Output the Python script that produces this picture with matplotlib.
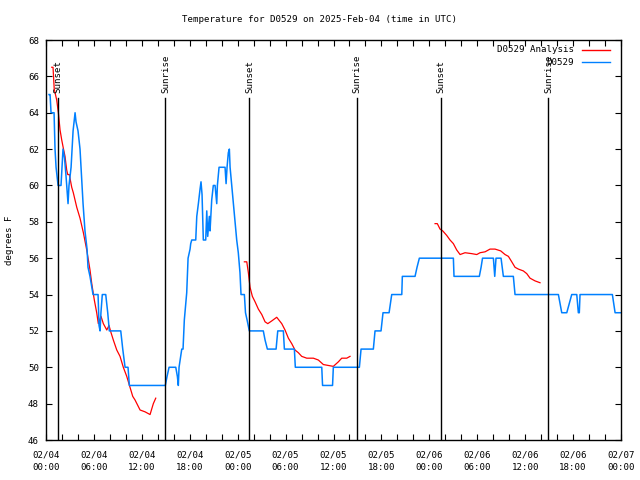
import matplotlib
matplotlib.use("Agg")
import matplotlib.pyplot as plt
from matplotlib.ticker import MultipleLocator

# hours since 2025-02-04 00:00 UTC
obs_hours = [0.38, 0.51, 0.63, 1.01, 1.13, 1.26, 1.51, 1.88, 2.01, 2.13, 2.32, 2.51, 2.76, 2.88,
             3.14, 3.39, 3.64, 3.76, 4.01, 4.26, 4.51, 4.64, 4.88, 5.14, 5.26, 5.51, 5.89, 6.52,
             6.64, 6.77, 6.88, 7.05, 7.48, 7.73, 7.93, 9.36, 9.61, 9.9, 10.27, 10.44, 14.94,
             15.16, 15.41, 16.25, 16.45, 16.57, 16.66, 17.0, 17.16, 17.32, 17.62, 17.79, 18.04,
             18.12, 18.25, 18.75, 18.88, 19.08, 19.29, 19.41, 19.54, 19.7, 20.0, 20.13, 20.25,
             20.45, 20.54, 20.75, 20.95, 21.17, 21.38, 21.46, 21.67, 22.42, 22.55, 22.67, 22.83,
             22.96, 23.05, 23.26, 23.46, 23.67, 23.88, 24.08, 24.29, 24.42, 24.84, 24.98, 25.18,
             25.46, 27.21, 27.43, 27.72, 28.81, 29.02, 29.72, 29.85, 31.1, 31.22, 34.53, 34.63,
             35.88, 35.98, 39.24, 39.45, 40.99, 41.2, 41.95, 42.2, 42.96, 43.29, 44.55, 44.62,
             46.21, 46.46, 46.75, 51.01, 51.09, 54.26, 54.48, 54.66, 56.02, 56.19, 56.35, 56.98,
             57.27, 58.52, 58.73, 64.16, 64.58, 65.21, 65.83, 66.46, 66.66, 66.78, 66.87, 70.92,
             71.26, 72.0]
obs_temp = [65, 65, 64, 64, 62, 61, 60, 60, 61, 62, 61.5, 60.5, 59, 60,
            61, 63, 64, 63.5, 63, 62, 60, 59, 57.5, 56.5, 55.5, 55, 54, 54,
            52.3, 52, 53, 54, 54, 53, 52, 52, 51, 50, 50, 49, 49,
            49.5, 50, 50, 49.5, 49, 50, 51, 51, 52.6, 54.1, 56, 56.5,
            56.8, 57, 57, 58.3, 59, 59.8, 60.2, 59.5, 57, 57, 58.6, 57.2,
            58.3, 57.5, 59.2, 60, 60, 59, 60, 61, 61, 60.1, 61, 61.8,
            62, 61, 60, 59, 58, 57, 56.3, 55.2, 54, 54, 53, 52.6,
            52, 52, 51.5, 51, 51, 52, 52, 51, 51, 50, 50, 49,
            49, 50, 50, 51, 51, 52, 52, 53, 53, 54, 54, 55,
            55, 55.5, 56, 56, 55, 55, 55.5, 56, 56, 55, 56, 56,
            55, 55, 54, 54, 53, 53, 54, 54, 53, 53, 54, 54,
            53, 53]

ana1_hours = [0.72, 0.88, 1.03, 1.34, 1.55, 1.76, 1.97, 2.17, 2.38, 2.59, 2.72, 2.92, 3.22, 3.42,
              3.85, 4.26, 4.68, 5.1, 5.51, 5.73, 6.05, 6.35, 6.55, 6.89, 7.18, 7.61, 7.89, 8.11,
              8.43, 8.86, 9.27, 9.68, 10.11, 10.52, 10.86, 11.15, 11.78, 12.4, 13.03, 13.44, 13.74]
ana1_temp = [66.5, 66.5, 65.3, 64.7, 64.0, 63.05, 62.5, 62.05, 61.6, 60.85, 60.6, 60.6, 59.9, 59.6,
             58.8, 58.2, 57.4, 56.45, 55.35, 54.6, 53.7, 53.0, 52.4, 52.8, 52.4, 52.05, 52.3, 51.95,
             51.5, 50.95, 50.6, 50.0, 49.5, 48.9, 48.4, 48.2, 47.65, 47.55, 47.4, 48.0, 48.3]

ana2_hours = [24.84, 25.14, 25.34, 25.55, 25.84, 26.18, 26.59, 27.02, 27.43, 27.77, 28.27, 28.89,
              29.52, 29.93, 30.35, 30.77, 31.18, 31.6, 32.02, 32.65, 33.48, 34.1, 34.73, 35.35,
              35.98, 36.61, 37.03, 37.66, 38.07]
ana2_temp = [55.8, 55.8, 55.2, 54.4, 53.9, 53.6, 53.2, 52.9, 52.5, 52.4, 52.55, 52.75,
             52.4, 52.05, 51.6, 51.3, 50.95, 50.8, 50.6, 50.5, 50.5, 50.4, 50.15, 50.1,
             50.05, 50.3, 50.5, 50.5, 50.6]

ana3_hours = [48.72, 49.0, 49.34, 49.68, 50.18, 50.59, 51.01, 51.43, 51.85, 52.47, 53.31, 53.94,
              54.35, 54.98, 55.6, 56.23, 56.94, 57.48, 57.9, 58.32, 58.73, 59.15, 59.77, 60.2,
              60.61, 61.24, 61.86]
ana3_temp = [57.9, 57.9, 57.6, 57.5, 57.25, 57.0, 56.8, 56.45, 56.2, 56.3, 56.25, 56.2,
             56.3, 56.35, 56.5, 56.5, 56.4, 56.2, 56.1, 55.8, 55.5, 55.4, 55.3, 55.15,
             54.9, 54.75, 54.65]

sun_hours = [1.45, 14.95, 25.47, 38.93, 49.5, 62.92]
sun_labels = ["Sunset", "Sunrise", "Sunset", "Sunrise", "Sunset", "Sunrise"]

tick_labels = ["02/04\n00:00", "02/04\n06:00", "02/04\n12:00", "02/04\n18:00",
               "02/05\n00:00", "02/05\n06:00", "02/05\n12:00", "02/05\n18:00",
               "02/06\n00:00", "02/06\n06:00", "02/06\n12:00", "02/06\n18:00",
               "02/07\n00:00"]

RED = "#ff0000"
BLUE = "#0080ff"
FS = 6.6
plt.rcParams["font.family"] = "DejaVu Sans Mono"

fig = plt.figure(figsize=(6.4, 4.8), dpi=100)
ax = fig.add_axes([46 / 640, 40 / 480, 575 / 640, 400 / 480])

for h, t in [(ana1_hours, ana1_temp), (ana2_hours, ana2_temp), (ana3_hours, ana3_temp)]:
    ax.plot(h, t, color=RED, lw=0.9)
ax.plot(obs_hours, obs_temp, color=BLUE, lw=1.1)

for h, lab in zip(sun_hours, sun_labels):
    ax.axvline(h, ymin=0, ymax=0.855, color="black", lw=1.0)
    ax.text(h, 0.868, lab, rotation=90, ha="center", va="bottom", fontsize=FS,
            transform=ax.get_xaxis_transform())

ax.set_xlim(0, 72)
ax.set_ylim(46, 68)
ax.set_xticks(range(0, 73, 6))
ax.set_xticklabels(tick_labels, linespacing=1.45)
ax.xaxis.set_minor_locator(MultipleLocator(2))
ax.set_yticks(range(46, 69, 2))
ax.tick_params(which="both", direction="in", top=True, right=True, length=4, width=0.8,
               labelsize=FS)
ax.tick_params(axis="x", pad=7.5)
ax.tick_params(axis="y", pad=5)
for s in ax.spines.values():
    s.set_linewidth(1.0)

# legend drawn by hand, right aligned text like gnuplot
ax.text(0.918, 0.975, "D0529 Analysis", ha="right", va="center", fontsize=FS, transform=ax.transAxes)
ax.plot([0.932, 0.981], [0.975, 0.975], color=RED, lw=1.0, transform=ax.transAxes)
ax.text(0.918, 0.944, "D0529", ha="right", va="center", fontsize=FS, transform=ax.transAxes)
ax.plot([0.932, 0.981], [0.944, 0.944], color=BLUE, lw=1.0, transform=ax.transAxes)

fig.text(0.5, 1 - 19 / 480, "Temperature for D0529 on 2025-Feb-04 (time in UTC)",
         ha="center", va="center", fontsize=FS)
fig.text(10 / 640, 0.5, "degrees F", rotation=90, ha="center", va="center", fontsize=FS)

fig.savefig("out.png", dpi=100)
